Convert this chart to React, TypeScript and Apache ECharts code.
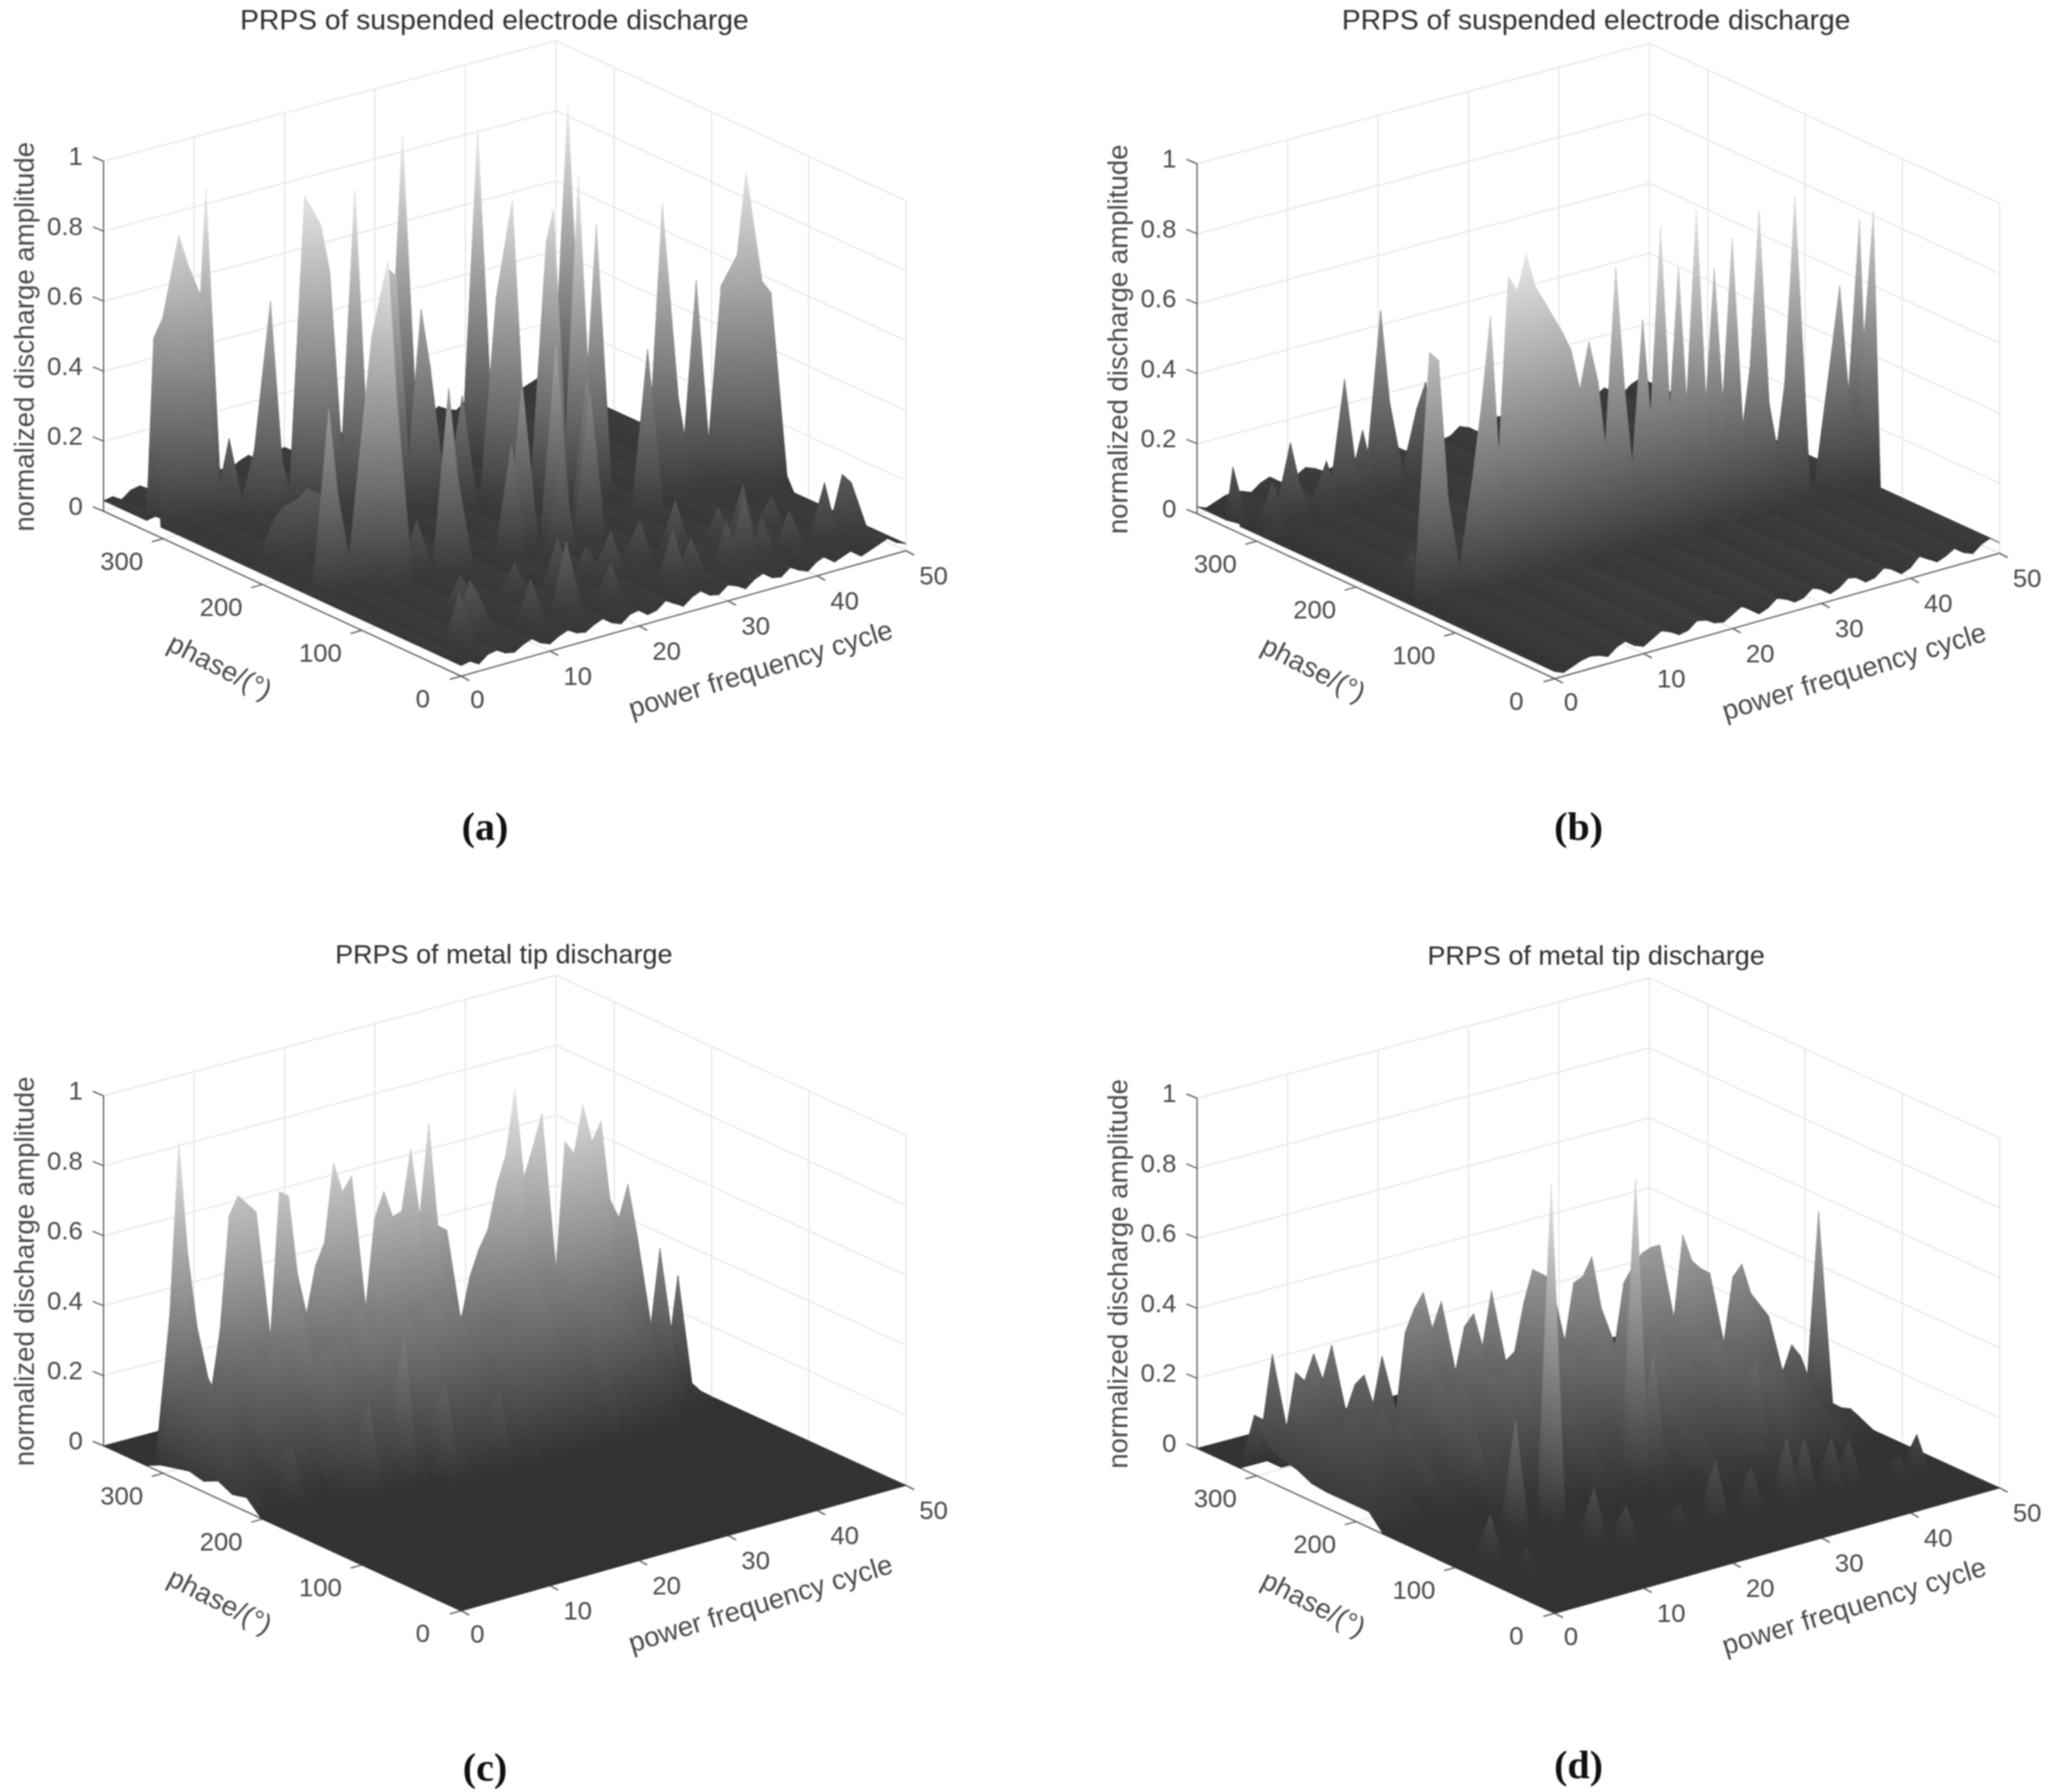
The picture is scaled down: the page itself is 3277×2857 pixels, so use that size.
import React, { useEffect, useRef } from "react";
import * as echarts from "echarts";

const zTicks = [0, 0.2, 0.4, 0.6, 0.8, 1];
const cycleTicks = [0, 10, 20, 30, 40, 50];
const phaseTicks = [0, 100, 200, 300];
const titles = ["PRPS of suspended electrode discharge", "PRPS of suspended electrode discharge", "PRPS of metal tip discharge", "PRPS of metal tip discharge"];
const subLabels = ["(a)", "(b)", "(c)", "(d)"];

// floor ripple per cycle
const aWave = [.03,.035,.02,.04,.045,.03,.025,.04,.05,.03,.02,.035,.045,.03,.025,.04,.05,.03,.02,.04,.045,.025,.03,.05,.035,.02,.04,.05,.03,.025,.045,.035,.02,.04,.05,.03,.025,.045,.03,.02,.04,.05,.025,.035,.045,.02,.03,.04,.05,.03,.02];
const bWave = [.02,.01,.02,.03,.035,.03,.02,.04,.05,.03,.02,.035,.05,.04,.025,.03,.05,.045,.03,.025,.04,.055,.04,.02,.03,.05,.04,.025,.03,.05,.04,.02,.03,.05,.045,.025,.03,.05,.04,.02,.03,.055,.04,.025,.035,.05,.03,.02,.04,.05,.03];

// [cycle, phase node (7.2 deg step), amplitude]
const aPeaks = [
[0,43,.56],[1,43,.61],[2,42,.85],[3,42,.76],[4,41,.65],[5,42,.96],[6,40,.26],[8,39,.22],[9,38,.65],[10,38,.22],[12,37,.94],[13,36,.86],[14,36,.72],[16,35,.95],[18,33,.73],[19,33,.7],[26,41,.98],[32,38,.98],[42,38,.98],[22,32,.43],[24,30,.35],[21,32,.6],
[28,28,.9],[27,29,.62],[31,27,.77],[31,26,.87],[33,25,.96],[35,25,.81],[40,22,.86],[41,21,.31],[43,21,.63],[45,20,.61],[47,19,.93],[46,19,.7],[48,18,.62],[49,18,.58],[50,17,.06],
[2,21,.55],[3,21,.3],[7,19,.96],[6,20,.74],[5,20,.5],[8,19,.55],[13,18,.56],[11,20,.18],[14,18,.3],
[3,30,.14],[4,30,.17],[5,29,.2],[6,29,.22],[7,28,.2],[5,30,.16],[6,30,.12],[4,29,.12],
[20,18,.35],[24,16,.3],[30,20,.45],[36,19,.5],[22,19,.5],[25,18,.6],[28,17,.45],
[3,4,.18],[5,5,.19],[6,5,.14],[11,4,.16],[15,4,.24],[20,4,.14],[27,4,.19],[29,4,.15],[33,4,.17],[35,4,.22],[37,4,.15],[40,4,.15],[44,4,.2],[46,4,.21],[47,4,.18],[8,10,.14],[14,10,.13],[18,9,.18],[22,10,.12],[24,9,.16],[28,10,.15],[32,10,.18],[36,9,.14],[38,8,.2],[42,9,.13]];
const bPeaks = [
[0,45,.18],[2,42,.15],[4,42,.25],[5,42,.13],[8,42,.17],[10,42,.39],[12,42,.23],[14,42,.56],[15,42,.29],[18,42,.25],[19,42,.32],[1,40,.08],[4,25,.1],
[2,20,.73],[3,20,.7],[4,20,.31],[6,19,.35],[7,19,.55],
[8,19,.8],[9,19,.35],[10,19,.9],[11,19,.85],[12,19,.95],[13,19,.85],[14,19,.8],[15,19,.75],[16,19,.7],[17,19,.64],[18,19,.52],[19,19,.65],[20,19,.53],[21,19,.3],[22,19,.84],[23,19,.48],[24,19,.2],[25,19,.67],[26,19,.35],[27,19,.92],[28,19,.3],[29,19,.79],[30,19,.3],[31,19,.94],[32,19,.2],[33,19,.76],[34,19,.2],[35,19,.83],[36,19,.25],[37,19,.45],[38,19,.89],[39,19,.35],[40,19,.2],[41,19,.4],[42,19,.9],[43,19,.1],[46,19,.41],[47,19,.61],[48,19,.3],[49,19,.2],[50,20,.77],[50,19,.25],[50,18,.81]];

// column-wise surface for (c) and (d): top phase node per cycle, then amplitudes at every second node going front
const cTopRow = [42,42,42,42,42,40,40,40,40,40,38,38,38,38,38,38,38,38,38,36,36,36,36,36,36,36,36,36,34,34,34,34,34,34,34,34,34,32,32,32,32,32,32,32,32,32,30,30,30,30,30];
const cColumns = [[.02,.03,.04,.03,.05,.03,.04],[.44,.2,.2,.12,.1,.05,.03],[.93,.26,.22,.2,.08,.04],[.6,.3,.24,.2,.1,.03],[.39,.22,.28,.16,.06,.02],[.39,.26,.2,.2,.1,.15],[.71,.3,.26,.18,.08,.03],[.76,.34,.3,.22,.1,.02],[.73,.3,.36,.2,.12],[.7,.36,.3,.26,.1,.03],[.77,.34,.36,.22,.12,.04],[.75,.38,.3,.3,.14,.05],[.52,.3,.34,.26,.12,.25],[.4,.3,.3,.28,.16,.06],[.53,.34,.36,.24,.14,.05],[.59,.36,.3,.3,.18,.08],[.81,.38,.4,.34,.2,.4],[.72,.42,.36,.3,.16,.1],[.76,.4,.4,.32,.2,.06],[.65,.36,.36,.28,.16,.27],[.72,.42,.38,.3,.18,.08],[.64,.38,.34,.32,.14,.04],[.65,.34,.36,.26,.16,.06],[.82,.44,.4,.3,.12,.05],[.62,.38,.36,.28,.18,.06],[.88,.42,.38,.3,.14,.2],[.58,.34,.34,.26,.14,.05],[.56,.32,.36,.24,.12,.04],[.44,.3,.3,.2,.1],[.51,.32,.28,.22,.08],[.56,.3,.32,.2,.1],[.68,.36,.3,.24,.08],[.76,.4,.34,.22,.1],[.94,.42,.38,.26,.08],[.68,.4,.32,.2,.1],[.76,.38,.36,.24,.06],[.85,.42,.34,.2,.08],[.78,.36,.3,.2],[.74,.38,.28,.08],[.87,.36,.32,.1],[.76,.36,.26,.06],[.81,.34,.3,.08],[.58,.3,.22,.05],[.52,.28,.24,.06],[.61,.26,.18,.04],[.46,.22,.14],[.43,.16],[.05,.03],[.34,.05],[.03,.02],[0]];
const dTopRow = [42,42,42,40,40,40,40,40,38,38,38,38,36,36,36,36,36,34,34,34,34,32,32,32,32,32,30,30,30,30,28,28,28,28,28,26,26,26,26,24,24,24,24,24,22,22,22,22,20,20,20];
const dColumns = [[.17,.1,.08,.07,.05,.045,.045,.045,.045],[.15,.1,.1,.09,.08,.06,.05,.05,.04],[.33,.14,.14,.12,.1,.08,.07,.05,.03],[.29,.14,.16,.14,.1,.08,.06,.03],[.26,.13,.15,.13,.12,.09,.05,.02],[.33,.16,.16,.15,.1,.07,.05,.02],[.25,.14,.18,.14,.12,.06,.03],[.34,.17,.16,.16,.09,.07,.02],[.24,.14,.2,.12,.1,.12,.04],[.26,.15,.14,.18,.08,.05,.03],[.17,.13,.16,.12,.09,.06,.02],[.3,.16,.18,.16,.07,.1,.03],[.38,.2,.2,.2,.14,.18,.06],[.44,.22,.24,.18,.16,.08,.04],[.48,.25,.22,.22,.1,.12,.05],[.37,.22,.26,.2,.16,.07,.03],[.44,.26,.22,.18,.14,.1,.04],[.38,.24,.28,.22,.12,.06,.02],[.41,.26,.24,.2,.16,.08,.03],[.31,.24,.28,.24,.14,.1,.04],[.46,.28,.28,.2,.12,.06,.02],[.3,.26,.26,.22,.16,.08,.03],[.43,.28,.3,.2,.14,.1,.04],[.52,.32,.28,.24,.12,.05,.02],[.5,.3,.32,.22,.16,.08,.03],[.48,.32,.28,.26,.14,.06,.03],[.48,.3,.3,.22,.18,.1,.04],[.49,.32,.32,.24,.14,.07,.02],[.54,.34,.28,.26,.16,.09,.03],[.39,.3,.34,.2,.12,.06,.02],[.47,.32,.28,.24,.16,.08,.03],[.51,.3,.32,.2,.14,.1,.04],[.54,.34,.28,.22,.12,.06,.02],[.55,.3,.3,.26,.15,.07,.03],[.55,.36,.28,.2,.14,.08,.03],[.59,.32,.28,.22,.12,.05],[.51,.3,.32,.2,.14,.07],[.48,.28,.26,.24,.1,.04],[.46,.28,.28,.18,.12,.05],[.46,.26,.24,.2,.1],[.49,.26,.22,.16,.08],[.4,.22,.24,.14,.06],[.36,.2,.18,.12,.05],[.32,.18,.16,.1,.04],[.25,.14,.12,.06],[.21,.12,.08,.04],[.1,.08,.06,.02],[.61,.08,.04],[.06,.04],[.05,.03],[.02]];
const dPeaks = [[14,18,.96],[25,20,.875],[27,20,.36],[10,18,.31],[37,18,.28],[4,14,.12],[5,10,.055],[14,12,.146],[16,10,.1],[22,10,.06],[26,10,.16],[30,10,.11],[34,10,.165],[36,10,.15],[41,10,.11],[39,10,.13],[47,8,.1],[45,8,.05]];

const CYCLE_MAX = 50, PHASE_MAX = 360, NC = 50;
const FONT = '"Liberation Sans", Arial, sans-serif';
// panel geometry in panel-local pixels
const L = [165, 815], F = [735, 1078], R = [1444, 878], B = [886, 623], H = 558;
const project = (c: number, p: number, z: number) => {
  const u = c / CYCLE_MAX, v = p / PHASE_MAX;
  const x = F[0]*(1-u)*(1-v) + R[0]*u*(1-v) + L[0]*(1-u)*v + B[0]*u*v;
  const y = F[1]*(1-u)*(1-v) + R[1]*u*(1-v) + L[1]*(1-u)*v + B[1]*u*v - H*z;
  return [x, y];
};
const lum = (z: number) => Math.min(235, 50 + z * 190);
const grey = (z: number) => { const g = Math.round(lum(z)); return `rgb(${g},${g},${g})`; };

function gridFrom(step: number, wave: number[] | null, peaks: number[][], top?: number[], cols?: number[][]) {
  const n = Math.round(PHASE_MAX / step);
  const g: number[][] = [];
  for (let c = 0; c <= NC; c++) { g.push(new Array(n + 1).fill(wave ? wave[c] : 0)); }
  const idx = (i: number) => Math.round(i * 7.2 / step);
  if (top && cols) cols.forEach((col, c) => col.forEach((z, k) => { g[c][idx(top[c] - 2 * k)] = z; }));
  peaks.forEach(([c, i, z]) => { const j = idx(i); g[c][j] = Math.max(g[c][j], z); });
  return { g, n };
}
function triangles(step: number, g: number[][], n: number, wide: boolean) {
  const out: number[][] = [];
  for (let c = NC - 1; c >= 0; c--) {
    let i = n - 1;
    while (i >= 0) {
      let lo = i;
      const a = g[c][i + 1], b = g[c + 1][i + 1];
      while (lo >= 0 && g[c][lo] === a && g[c + 1][lo] === b) lo--;
      if (lo < i) {
        const p0 = (lo + 1) * step, p1 = (i + 1) * step;
        out.push([c, p1, a, c + 1, p1, b, c + 1, p0, b]);
        out.push([c, p1, a, c + 1, p0, b, c, p0, a]);
        i = lo;
      } else {
        const p0 = i * step, p1 = (i + 1) * step;
        const A = [c, p0, g[c][i]], Bq = [c + 1, p0, g[c + 1][i]], C = [c + 1, p1, g[c + 1][i + 1]], D = [c, p1, g[c][i + 1]];
        if (wide) { out.push([...D, ...C, ...Bq]); out.push([...A, ...Bq, ...D]); }
        else { out.push([...A, ...C, ...D]); out.push([...A, ...Bq, ...C]); }
        i--;
      }
    }
  }
  return out;
}

const meshA = gridFrom(7.2, aWave, aPeaks);
const meshB = gridFrom(7.2, bWave, bPeaks);
const meshC = gridFrom(14.4, null, [], cTopRow, cColumns);
const meshD = gridFrom(14.4, null, dPeaks, dTopRow, dColumns);

const panels = [
  { ox: 0, oy: 0, titleSize: 45, title: [788, 31], label: [773, 1317], tris: triangles(7.2, meshA.g, meshA.n, true) },
  { ox: 1743, oy: 4, titleSize: 45, title: [801, 27], label: [773, 1313], tris: triangles(7.2, meshB.g, meshB.n, true) },
  { ox: 0, oy: 1490, titleSize: 43, title: [803, 31], label: [773, 1327], tris: triangles(14.4, meshC.g, meshC.n, false) },
  { ox: 1743, oy: 1494, titleSize: 43, title: [801, 29], label: [773, 1319], tris: triangles(14.4, meshD.g, meshD.n, false) },
];

function surfaceItem(_: any, api: any) {
  const pts: number[][] = [], zs: number[] = [];
  for (let k = 0; k < 3; k++) {
    const c = api.value(k * 3), p = api.value(k * 3 + 1), z = api.value(k * 3 + 2);
    pts.push(api.coord(project(c, p, z)));
    zs.push(z);
  }
  const [[x1, y1], [x2, y2], [x3, y3]] = pts;
  const det = (x2 - x1) * (y3 - y1) - (x3 - x1) * (y2 - y1);
  const zmin = Math.min(...zs), zmax = Math.max(...zs);
  let fill: any = grey((zmin + zmax) / 2);
  if (Math.abs(det) > 1e-3 && zmax - zmin > 1e-4) {
    const dz2 = zs[1] - zs[0], dz3 = zs[2] - zs[0];
    const gx = (dz2 * (y3 - y1) - dz3 * (y2 - y1)) / det;
    const gy = ((x2 - x1) * dz3 - (x3 - x1) * dz2) / det;
    const m = gx * gx + gy * gy;
    if (m > 0) {
      const s = pts[zs.indexOf(zmin)];
      const d = (zmax - zmin) / m;
      fill = { type: "linear", global: true, x: s[0], y: s[1], x2: s[0] + gx * d, y2: s[1] + gy * d,
        colorStops: [{ offset: 0, color: grey(zmin) }, { offset: 1, color: grey(zmax) }] };
    }
  }
  return { type: "polygon", silent: true, shape: { points: pts }, style: { fill, stroke: fill, lineWidth: 0.8 } };
}

function frameItem(panelIndex: number) {
  const panel = panels[panelIndex];
  return (_: any, api: any) => {
    const P = (c: number, p: number, z: number) => api.coord(project(c, p, z));
    const at = (q: number[]) => api.coord(q);
    const kids: any[] = [];
    const ln = (a: number[], b: number[], stroke: string, w = 2) => kids.push({ type: "line", silent: true, shape: { x1: a[0], y1: a[1], x2: b[0], y2: b[1] }, style: { stroke, lineWidth: w } });
    const txt = (s: string, q: number[], size: number, fill: string, rot = 0, weight = "normal", family = FONT, align = "center") =>
      kids.push({ type: "text", silent: true, x: q[0], y: q[1], rotation: rot, style: { text: s, x: 0, y: 0, align, verticalAlign: "middle", fontSize: size, fontFamily: family, fontWeight: weight, fill } });
    const G = "#e6e6e6", A = "#5a5a5a", T = "#4a4a4a";
    zTicks.forEach((z) => { ln(P(0, PHASE_MAX, z), P(CYCLE_MAX, PHASE_MAX, z), G); ln(P(CYCLE_MAX, PHASE_MAX, z), P(CYCLE_MAX, 0, z), G); });
    cycleTicks.forEach((c) => { ln(P(c, PHASE_MAX, 0), P(c, PHASE_MAX, 1), G); ln(P(c, 0, 0), P(c, PHASE_MAX, 0), G); });
    phaseTicks.forEach((p) => { ln(P(CYCLE_MAX, p, 0), P(CYCLE_MAX, p, 1), G); ln(P(0, p, 0), P(CYCLE_MAX, p, 0), G); });
    ln(P(CYCLE_MAX, 0, 0), P(CYCLE_MAX, 0, 1), G);
    ln(P(0, PHASE_MAX, 0), P(0, PHASE_MAX, 1), A);
    ln(P(0, PHASE_MAX, 0), P(0, 0, 0), A);
    ln(P(0, 0, 0), P(CYCLE_MAX, 0, 0), A);
    zTicks.forEach((z) => {
      const a = P(0, PHASE_MAX, z);
      ln(a, [a[0] - 17, a[1] - 7], A);
      txt(String(z), [a[0] - 33, a[1] - 8], 41, T, 0, "normal", FONT, "right");
    });
    cycleTicks.forEach((c) => {
      const a = P(c, 0, 0);
      ln(a, [a[0] + 13, a[1] + 7], A);
      txt(String(c), [a[0] + (c === 0 ? 26 : 44), a[1] + (c === 0 ? 37 : 40)], 41, T);
    });
    phaseTicks.forEach((p) => {
      const a = P(0, p, 0);
      ln(a, [a[0] - 18, a[1] + 5], A);
      txt(String(p), [a[0] - (p === 0 ? 61 : 66), a[1] + 36], 41, T);
    });
    txt(titles[panelIndex], at(panel.title), panel.titleSize, "#2e2e2e");
    txt("normalized discharge amplitude", at([38, 537]), 44, T, Math.PI / 2);
    txt("power frequency cycle", at([1212, 1066]), 44, T, (17 * Math.PI) / 180);
    txt("phase/(°)", at([351, 1062]), 44, T, (-27 * Math.PI) / 180);
    txt(subLabels[panelIndex], at(panel.label), 64, "#111", 0, "bold", '"Liberation Serif", serif');
    return { type: "group", children: kids };
  };
}

export default function App() {
  const ref = useRef<HTMLDivElement>(null);
  useEffect(() => {
    document.body.style.margin = "0";
    const chart = echarts.init(ref.current!, null, { renderer: "svg" });
    const W = 1530, HH = 1360;
    chart.setOption({
      animation: false,
      backgroundColor: "#fff",
      grid: panels.map((p) => ({ left: p.ox, top: p.oy, width: W, height: HH })),
      xAxis: panels.map((_, i) => ({ type: "value", gridIndex: i, min: 0, max: W, show: false })),
      yAxis: panels.map((_, i) => ({ type: "value", gridIndex: i, min: 0, max: HH, inverse: true, show: false })),
      tooltip: { show: false },
      series: panels.flatMap((p, i) => [
        { type: "custom", xAxisIndex: i, yAxisIndex: i, data: [[0, 0]], renderItem: frameItem(i), clip: false, z: 1, silent: true, progressive: 0 },
        { type: "custom", xAxisIndex: i, yAxisIndex: i, data: p.tris, renderItem: surfaceItem, clip: false, z: 2, silent: true, progressive: 0, encode: { x: 0, y: 1 } },
      ]),
    });
    return () => chart.dispose();
  }, []);
  return <div ref={ref} style={{ width: 3277, height: 2857, filter: "blur(0.8px)" }} />;
}
